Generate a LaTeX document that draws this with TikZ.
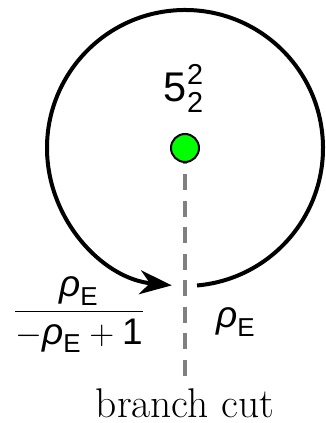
\documentclass[tikz,border=0pt]{standalone}
\usepackage{amsmath}
\usepackage{fontspec}
\newfontfamily\sff{Liberation Sans}
\usetikzlibrary{arrows.meta}
\newcommand{\rhoE}{\text{\sff\itshape ρ}_{\text{\sff E}}}
\newcommand{\sfn}[1]{\text{\sff #1}}
\begin{document}
\begin{tikzpicture}[x=0.5pt, y=0.5pt, every node/.style={font=\fontsize{18.5}{22}\selectfont}]
\useasboundingbox (0,0) rectangle (326,423);
\coordinate (c) at (185,275);
\coordinate (cutend) at (185,47);
\coordinate (arcstart) at ([shift={(275:138)}]c);
\draw[line width=2pt,-{Stealth[length=16pt,width=12pt,inset=5pt]}] (arcstart) arc[start angle=275,end angle=624.5,radius=138];
\draw[gray,line width=2pt,dash pattern=on 8pt off 5.25pt] (c) -- (cutend);
\node[circle,draw,line width=1pt,fill=green,minimum size=14pt,inner sep=0pt] (dot) at (c) {};
\node[anchor=base,font=\huge] (knot) at (184,321) {$\sfn{5}^{\sfn{2}}_{\sfn{2}}$};
\node (fracl) at (79,108) {$\dfrac{\rhoE}{-\rhoE+\sfn{1}}$};
\node[anchor=base] (valr) at (236,95) {$\rhoE$};
\node[anchor=base,font=\huge] (cut) at (185,5) {branch cut};
\end{tikzpicture}
\end{document}
